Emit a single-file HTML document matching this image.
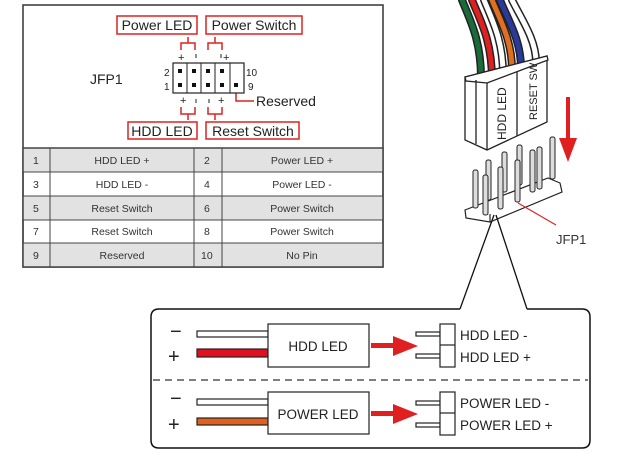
<!DOCTYPE html>
<html><head><meta charset="utf-8"><style>
body{margin:0;background:#fff;}
svg{display:block;font-family:"Liberation Sans",sans-serif;}
</style></head><body>
<svg width="640" height="454" viewBox="0 0 640 454" xmlns="http://www.w3.org/2000/svg">
<!-- left panel -->
<rect x="23" y="5" width="360" height="262" fill="#fff" stroke="#333" stroke-width="1.5"/>
<g font-size="13" fill="#222">
<rect x="117" y="16" width="80" height="18" fill="#fff" stroke="#d22" stroke-width="1.5"/>
<text x="157" y="30" text-anchor="middle" font-size="14">Power LED</text>
<rect x="206" y="16" width="96" height="18" fill="#fff" stroke="#d22" stroke-width="1.5"/>
<text x="254" y="30" text-anchor="middle" font-size="14">Power Switch</text>
<rect x="128" y="122" width="69" height="17" fill="#fff" stroke="#d22" stroke-width="1.5"/>
<text x="162" y="136" text-anchor="middle" font-size="14">HDD LED</text>
<rect x="206" y="122" width="93" height="17" fill="#fff" stroke="#d22" stroke-width="1.5"/>
<text x="253" y="136" text-anchor="middle" font-size="14">Reset Switch</text>
<text x="90" y="84" font-size="14">JFP1</text>
<text x="164" y="76" font-size="10">2</text><text x="164" y="90" font-size="10">1</text>
<text x="246" y="76" font-size="10">10</text><text x="248" y="90" font-size="10">9</text>
<text x="256" y="106" font-size="14">Reserved</text>
<text x="178" y="61" font-size="11">+</text><text x="223" y="61" font-size="11">+</text>
<text x="180" y="104" font-size="11">+</text><text x="218" y="104" font-size="11">+</text>
</g>
<g stroke="#d22" stroke-width="1.5" fill="none">
<path d="M181 50 V43 H195 V50 M188 43 V37"/>
<path d="M208 50 V43 H222 V50 M215 43 V37"/>
<path d="M181 107 V114 H195 V107 M188 114 V120"/>
<path d="M208 107 V114 H222 V107 M215 114 V120"/>
<path d="M236 86 V101 H254"/>
</g>
<g stroke="#222" stroke-width="1"><line x1="196" y1="54" x2="196" y2="58"/><line x1="221" y1="54" x2="221" y2="58"/><line x1="196" y1="99" x2="196" y2="103"/><line x1="209" y1="99" x2="209" y2="103"/></g>
<rect x="173" y="63" width="71" height="30" fill="#fff" stroke="#222" stroke-width="1.2"/>
<g stroke="#222" stroke-width="1"><line x1="187" y1="63" x2="187" y2="93"/><line x1="201" y1="63" x2="201" y2="93"/><line x1="215" y1="63" x2="215" y2="93"/><line x1="230" y1="63" x2="230" y2="93"/></g>
<g fill="#111">
<rect x="178" y="69" width="4" height="4"/><rect x="192" y="69" width="4" height="4"/><rect x="206" y="69" width="4" height="4"/><rect x="220" y="69" width="4" height="4"/>
<rect x="178" y="83" width="4" height="4"/><rect x="192" y="83" width="4" height="4"/><rect x="206" y="83" width="4" height="4"/><rect x="220" y="83" width="4" height="4"/><rect x="234" y="83" width="4" height="4"/>
</g>
<!-- table -->
<g>
<rect x="23" y="148" width="360" height="24" fill="#e2e2e2"/>
<rect x="23" y="196" width="360" height="24" fill="#e2e2e2"/>
<rect x="23" y="243" width="360" height="24" fill="#e2e2e2"/>
<g stroke="#444" stroke-width="1" fill="none">
<rect x="23" y="148" width="360" height="119" stroke-width="1.5"/>
<line x1="23" y1="172" x2="383" y2="172"/><line x1="23" y1="196" x2="383" y2="196"/><line x1="23" y1="220" x2="383" y2="220"/><line x1="23" y1="243" x2="383" y2="243"/>
<line x1="50" y1="148" x2="50" y2="267"/><line x1="194" y1="148" x2="194" y2="267"/><line x1="222" y1="148" x2="222" y2="267"/>
</g>
<g font-size="10.5" fill="#333">
<text x="33" y="164">1</text><text x="122" y="164" text-anchor="middle">HDD LED +</text><text x="204" y="164">2</text><text x="302" y="164" text-anchor="middle">Power LED +</text>
<text x="33" y="188">3</text><text x="122" y="188" text-anchor="middle">HDD LED -</text><text x="204" y="188">4</text><text x="302" y="188" text-anchor="middle">Power LED -</text>
<text x="33" y="212">5</text><text x="122" y="212" text-anchor="middle">Reset Switch</text><text x="204" y="212">6</text><text x="302" y="212" text-anchor="middle">Power Switch</text>
<text x="33" y="235">7</text><text x="122" y="235" text-anchor="middle">Reset Switch</text><text x="204" y="235">8</text><text x="302" y="235" text-anchor="middle">Power Switch</text>
<text x="33" y="259">9</text><text x="122" y="259" text-anchor="middle">Reserved</text><text x="201" y="259">10</text><text x="302" y="259" text-anchor="middle">No Pin</text>
</g>
</g>
<!-- wires -->
<g fill="none" stroke-linecap="round">
<path d="M481 78 C481 40 470 20 462 0" stroke="#222" stroke-width="8"/><path d="M481 78 C481 40 470 20 462 0" stroke="#1a6b3a" stroke-width="5"/>
<path d="M492 80 C492 40 480 20 472 0" stroke="#222" stroke-width="8"/><path d="M492 80 C492 40 480 20 472 0" stroke="#e02020" stroke-width="5"/>
<path d="M503 74 C503 40 492 20 484 0" stroke="#222" stroke-width="8"/><path d="M503 74 C503 40 492 20 484 0" stroke="#fff" stroke-width="5"/>
<path d="M512 70 C512 40 500 20 492 0" stroke="#222" stroke-width="8"/><path d="M512 70 C512 40 500 20 492 0" stroke="#e07020" stroke-width="5"/>
<path d="M521 68 C521 40 508 20 500 0" stroke="#222" stroke-width="8"/><path d="M521 68 C521 40 508 20 500 0" stroke="#2a3a9a" stroke-width="5"/>
<path d="M536 62 C536 40 522 20 512 0" stroke="#222" stroke-width="8"/><path d="M536 62 C536 40 522 20 512 0" stroke="#fff" stroke-width="5"/>
</g>
<!-- connector block -->
<g stroke="#222" stroke-width="1.3" fill="#fff">
<polygon points="465,77 547,56 547,122 487,150 465,140"/>
<polygon points="465,77 547,56 548,60 487,83 466,81"/>
<line x1="476" y1="80" x2="476" y2="144"/><line x1="487" y1="83" x2="487" y2="150"/><line x1="517" y1="72" x2="517" y2="136"/>
</g>
<text transform="translate(506,140) rotate(-90)" font-size="12" fill="#222">HDD LED</text>
<text transform="translate(537,120) rotate(-90)" font-size="11" fill="#222">RESET SW</text>
<!-- red arrow -->
<line x1="568" y1="97" x2="568" y2="140" stroke="#e02020" stroke-width="4"/>
<polygon points="559,138 577,138 568,162" fill="#e02020"/>
<!-- pin header -->
<g stroke="#222" stroke-width="1.2" fill="#fff">
<polygon points="465,210 548,178 560,183 562,192 490,222 466,218"/>
<line x1="490" y1="214" x2="490" y2="222"/>
</g>
<g stroke="#222" stroke-width="1" fill="#ddd">
<rect x="473" y="170" width="5" height="38" rx="2"/><rect x="486" y="160" width="5" height="40" rx="2"/><rect x="502" y="152" width="5" height="40" rx="2"/><rect x="517" y="145" width="5" height="40" rx="2"/><rect x="550" y="137" width="5" height="42" rx="2"/>
<rect x="483" y="175" width="5" height="40" rx="2"/><rect x="498" y="167" width="5" height="42" rx="2"/><rect x="515" y="160" width="5" height="42" rx="2"/><rect x="530" y="150" width="5" height="42" rx="2"/><rect x="537" y="147" width="5" height="42" rx="2"/>
</g>
<line x1="518" y1="203" x2="556" y2="225" stroke="#d22" stroke-width="1.2"/>
<text x="556" y="244" font-size="13" fill="#333">JFP1</text>
<line x1="494" y1="215" x2="460" y2="309" stroke="#111" stroke-width="1.3"/>
<line x1="496" y1="215" x2="527" y2="309" stroke="#111" stroke-width="1.3"/>
<!-- bottom box -->
<path d="M460 309 H159 Q151 309 151 317 V440 Q151 448 159 448 H582 Q590 448 590 440 V317 Q590 309 582 309 H527" fill="none" stroke="#111" stroke-width="1.5"/>
<line x1="153" y1="380" x2="588" y2="380" stroke="#333" stroke-width="1.3" stroke-dasharray="7,5"/>
<g font-size="20" fill="#222"><text x="170" y="338">−</text><text x="168" y="363">+</text><text x="170" y="405">−</text><text x="168" y="431">+</text></g>
<g stroke="#222" stroke-width="1.2">
<rect x="197" y="331" width="71" height="6" fill="#fff"/><rect x="197" y="349" width="71" height="8" fill="#e01020"/>
<rect x="197" y="399" width="71" height="6" fill="#fff"/><rect x="197" y="418" width="71" height="7" fill="#e06020"/>
<rect x="268" y="324" width="101" height="43" fill="#fff"/>
<rect x="268" y="392" width="101" height="42" fill="#fff"/>
<rect x="416" y="332" width="24" height="4" fill="#fff"/><rect x="416" y="354" width="24" height="4" fill="#fff"/>
<rect x="440" y="324" width="15" height="43" fill="#fff"/><line x1="440" y1="345" x2="455" y2="345"/>
<rect x="416" y="401" width="24" height="4" fill="#fff"/><rect x="416" y="423" width="24" height="4" fill="#fff"/>
<rect x="440" y="392" width="15" height="43" fill="#fff"/><line x1="440" y1="413" x2="455" y2="413"/>
</g>
<g fill="#e02020">
<rect x="371" y="343" width="25" height="5"/><polygon points="393,336 418,346 393,356"/>
<rect x="371" y="411" width="25" height="5"/><polygon points="393,404 418,414 393,424"/>
</g>
<g font-size="13.5" fill="#222">
<text x="318" y="351" text-anchor="middle">HDD LED</text>
<text x="318" y="419" text-anchor="middle">POWER LED</text>
<text x="460" y="340">HDD LED -</text><text x="460" y="362">HDD LED +</text>
<text x="460" y="408">POWER LED -</text><text x="460" y="430">POWER LED +</text>
</g>
</svg>
</body></html>
